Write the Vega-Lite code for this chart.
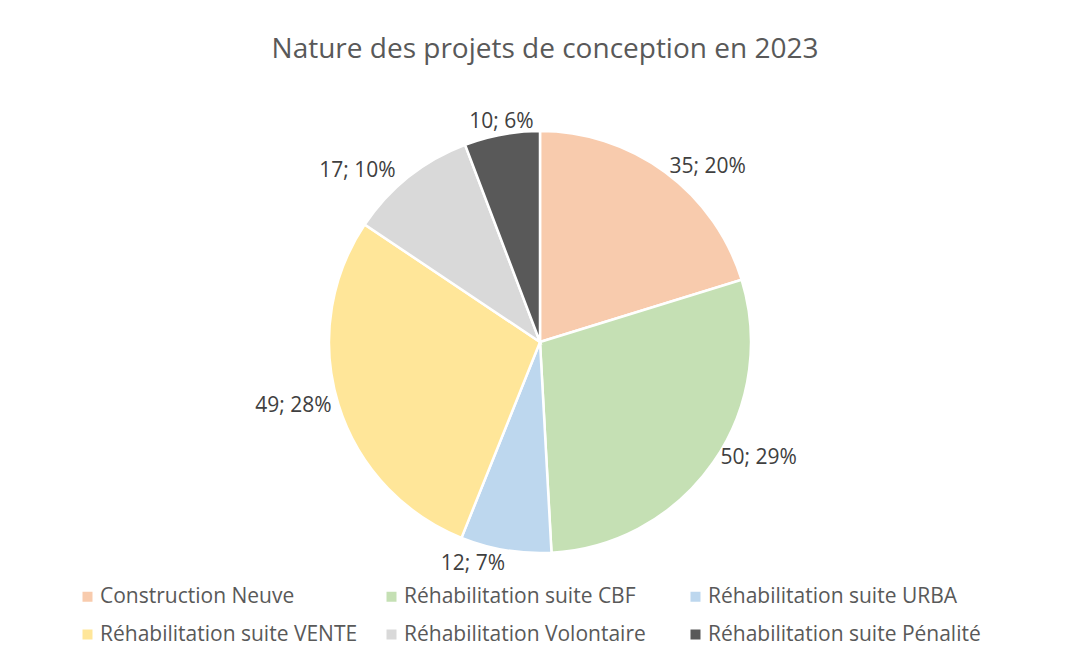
{
  "$schema": "https://vega.github.io/schema/vega-lite/v6.json",
  "width": 1058,
  "height": 648,
  "autosize": {"type": "none"},
  "padding": {"left": 11, "top": 18, "right": 0, "bottom": 0},
  "background": "white",
  "config": {"view": {"stroke": null}, "font": "Open Sans"},
  "title": {
    "text": "Nature des projets de conception en 2023",
    "font": "Open Sans",
    "fontSize": 28,
    "fontWeight": "normal",
    "color": "#595959",
    "anchor": "middle",
    "dx": 5,
    "dy": 50
  },
  "data": {
    "values": [
      {"cat": "Construction Neuve", "value": 35, "label": "35; 20%", "ord": 1},
      {"cat": "Réhabilitation suite CBF", "value": 50, "label": "50; 29%", "ord": 2},
      {"cat": "Réhabilitation suite URBA", "value": 12, "label": "12; 7%", "ord": 3},
      {"cat": "Réhabilitation suite VENTE", "value": 49, "label": "49; 28%", "ord": 4},
      {"cat": "Réhabilitation Volontaire", "value": 17, "label": "17; 10%", "ord": 5},
      {"cat": "Réhabilitation suite Pénalité", "value": 10, "label": "10; 6%", "ord": 6}
    ]
  },
  "encoding": {
    "theta": {"field": "value", "type": "quantitative", "stack": true},
    "order": {"field": "ord", "type": "quantitative"}
  },
  "layer": [
    {
      "mark": {"type": "arc", "outerRadius": 211, "stroke": "white", "strokeWidth": 2.5},
      "encoding": {
        "color": {
          "field": "cat",
          "type": "nominal",
          "sort": null,
          "scale": {
            "domain": ["Construction Neuve", "Réhabilitation suite CBF", "Réhabilitation suite URBA", "Réhabilitation suite VENTE", "Réhabilitation Volontaire", "Réhabilitation suite Pénalité"],
            "range": ["#F8CBAD", "#C5E0B4", "#BDD7EE", "#FFE699", "#D9D9D9", "#595959"]
          },
          "legend": {
            "title": null,
            "orient": "none",
            "legendX": 66,
            "legendY": 568,
            "direction": "horizontal",
            "columns": 3,
            "gridAlign": "all",
            "columnPadding": 8,
            "rowPadding": 16,
            "symbolType": "square",
            "symbolSize": 100,
            "symbolStrokeWidth": 0,
            "labelFont": "Open Sans",
            "labelFontSize": 21,
            "labelColor": "#595959",
            "labelLimit": 400,
            "labelOffset": 2
          }
        }
      }
    },
    {
      "mark": {"type": "text", "radius": 218, "font": "Open Sans", "fontSize": 21, "fill": "#404040", "align": "left", "baseline": "middle"},
      "encoding": {
        "detail": {"field": "cat", "type": "nominal"},
        "text": {"condition": {"test": "datum.ord == 1", "field": "label"}, "value": ""}
      }
    },
    {
      "mark": {"type": "text", "radius": 220, "font": "Open Sans", "fontSize": 21, "fill": "#404040", "align": "left", "baseline": "bottom"},
      "encoding": {
        "detail": {"field": "cat", "type": "nominal"},
        "text": {"condition": {"test": "datum.ord == 2", "field": "label"}, "value": ""}
      }
    },
    {
      "mark": {"type": "text", "radius": 218, "font": "Open Sans", "fontSize": 21, "fill": "#404040", "align": "right", "baseline": "middle"},
      "encoding": {
        "detail": {"field": "cat", "type": "nominal"},
        "text": {"condition": {"test": "datum.ord == 4", "field": "label"}, "value": ""}
      }
    },
    {
      "mark": {"type": "text", "radius": 232, "font": "Open Sans", "fontSize": 21, "fill": "#404040", "align": "right", "baseline": "top"},
      "encoding": {
        "detail": {"field": "cat", "type": "nominal"},
        "text": {"condition": {"test": "datum.ord == 5", "field": "label"}, "value": ""}
      }
    },
    {
      "mark": {"type": "text", "radius": 214, "font": "Open Sans", "fontSize": 21, "fill": "#404040", "align": "right", "baseline": "top"},
      "encoding": {
        "detail": {"field": "cat", "type": "nominal"},
        "text": {"condition": {"test": "datum.ord == 3", "field": "label"}, "value": ""}
      }
    },
    {
      "mark": {"type": "text", "radius": 214, "font": "Open Sans", "fontSize": 21, "fill": "#404040", "align": "center", "baseline": "bottom"},
      "encoding": {
        "detail": {"field": "cat", "type": "nominal"},
        "text": {"condition": {"test": "datum.ord == 6", "field": "label"}, "value": ""}
      }
    }
  ]
}
